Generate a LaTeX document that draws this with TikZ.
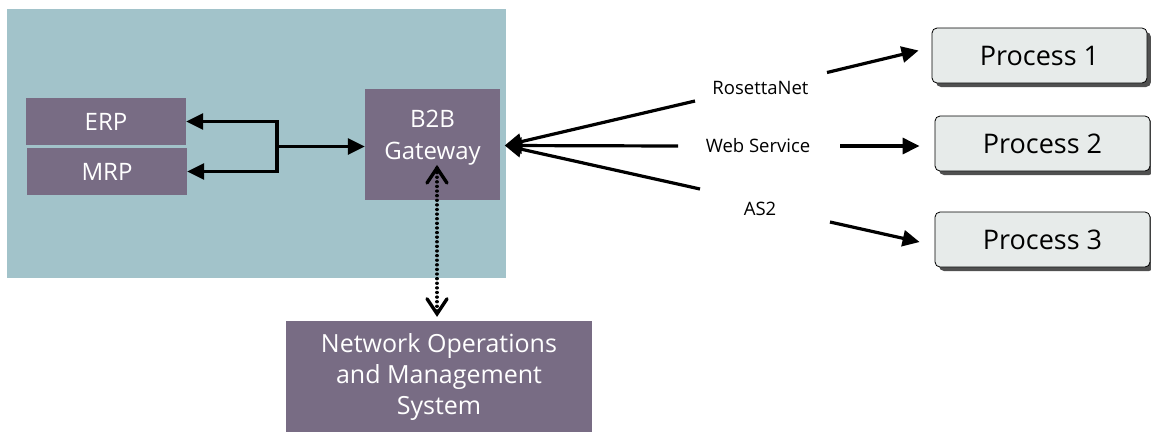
\documentclass[tikz,border=0pt]{standalone}
\usepackage{fontspec}
\setmainfont{Open Sans}
\usetikzlibrary{arrows.meta,calc,shadows}

\definecolor{sitebg}{HTML}{A2C3CA}
\definecolor{sysbox}{HTML}{786C84}
\definecolor{procfill}{HTML}{E7EBEA}
\definecolor{procshadow}{HTML}{505050}

\tikzset{
  sys/.style={fill=sysbox, text=white, inner sep=0pt, align=center},
  proc/.style={draw=black, line width=0.8pt, fill=procfill, rounded corners=5pt,
    minimum width=215pt, minimum height=55pt, inner sep=0pt,
    font=\fontsize{27}{30}\selectfont,
    drop shadow={shadow xshift=4pt, shadow yshift=-4pt, fill=procshadow, opacity=1}},
  proto/.style={anchor=base, inner sep=0pt, font=\fontsize{18.5}{22}\selectfont},
  tri/.tip={Triangle[length=17pt,width=16pt]},
  link/.style={line width=3.2pt, -tri},
  mgmt/.style={line width=3.4pt, line cap=round, dash pattern=on 0.01pt off 4.6pt},
  barbhead/.style={line width=3.4pt, line cap=round, line join=miter}
}

\begin{document}
\begin{tikzpicture}[x=1pt, y=-1pt]
  \useasboundingbox (0,0) rectangle (1151,432);

  % enterprise site
  \node[fill=sitebg, minimum width=499pt, minimum height=269pt, inner sep=0pt]
    (site) at (256.5,143.5) {};

  % internal systems
  \node[sys, minimum width=160pt, minimum height=47pt, font=\fontsize{24}{26}\selectfont]
    (erp) at (106,121.5) {ERP};
  \node[sys, minimum width=160pt, minimum height=47pt, font=\fontsize{24}{26}\selectfont]
    (mrp) at (107,171.5) {MRP};
  \node[sys, minimum width=135pt, minimum height=111pt] (gw) at (432.5,144.5) {};
  \node[text=white, align=center, inner sep=0pt, font=\fontsize{24}{32}\selectfont]
    (gwtext) at (432.5,137.5) {B2B\\Gateway};

  % management system
  \node[sys, minimum width=306pt, minimum height=111pt, font=\fontsize{25}{31}\selectfont]
    (noms) at (439,376.5) {Network Operations\\and Management\\System};

  % trading partner processes
  \node[proc] (p1) at (1039.5,55.5) {Process 1};
  \node[proc] (p2) at (1042.5,143.5) {Process 2};
  \node[proc] (p3) at (1042.5,239.5) {Process 3};

  % protocol labels
  \node[proto] (rn) at (760.5,94.3) {RosettaNet};
  \node[proto] (ws) at (758,152.7) {Web Service};
  \node[proto] (as) at (760,215) {AS2};

  % ERP / MRP fan-in to the gateway
  \coordinate (j) at (277,146.5);
  \draw[line width=3.2pt, tri-tri] (erp.east) -| (j) |- (mrp.east);
  \draw[link] (j) -- (j -| gw.west);

  % gateway to management system: dotted shaft with solid open heads
  \coordinate (mtop) at (437,168);
  \coordinate (mbot) at ($(mtop |- noms.north)+(0,-7)$);
  \draw[mgmt] (mtop) -- (mbot);
  \draw[barbhead] ($(mtop)+(-10,15)$) -- (mtop) -- ($(mtop)+(10,15)$);
  \draw[barbhead] ($(mbot)+(-10,-15)$) -- (mbot) -- ($(mbot)+(10,-15)$);

  % protocol links
  \coordinate (hub) at ($(gw.east)+(4.5,1)$);
  \coordinate (rnIn) at (695,101);
  \coordinate (wsIn) at (678,146);
  \coordinate (asIn) at (700,189);
  \draw[link] (rnIn) -- (hub);
  \draw[link] (wsIn) -- (hub);
  \draw[link] (asIn) -- (hub);

  \coordinate (rnOut) at (827,72.5);
  \coordinate (wsOut) at (840,146);
  \coordinate (asOut) at (830,222);
  \draw[link] (rnOut) -- ($(p1.west)+(-13,-5)$);
  \draw[link] (wsOut) -- ($(p2.west)+(-15,2.5)$);
  \draw[link] (asOut) -- ($(p3.west)+(-15,2.5)$);
\end{tikzpicture}
\end{document}
